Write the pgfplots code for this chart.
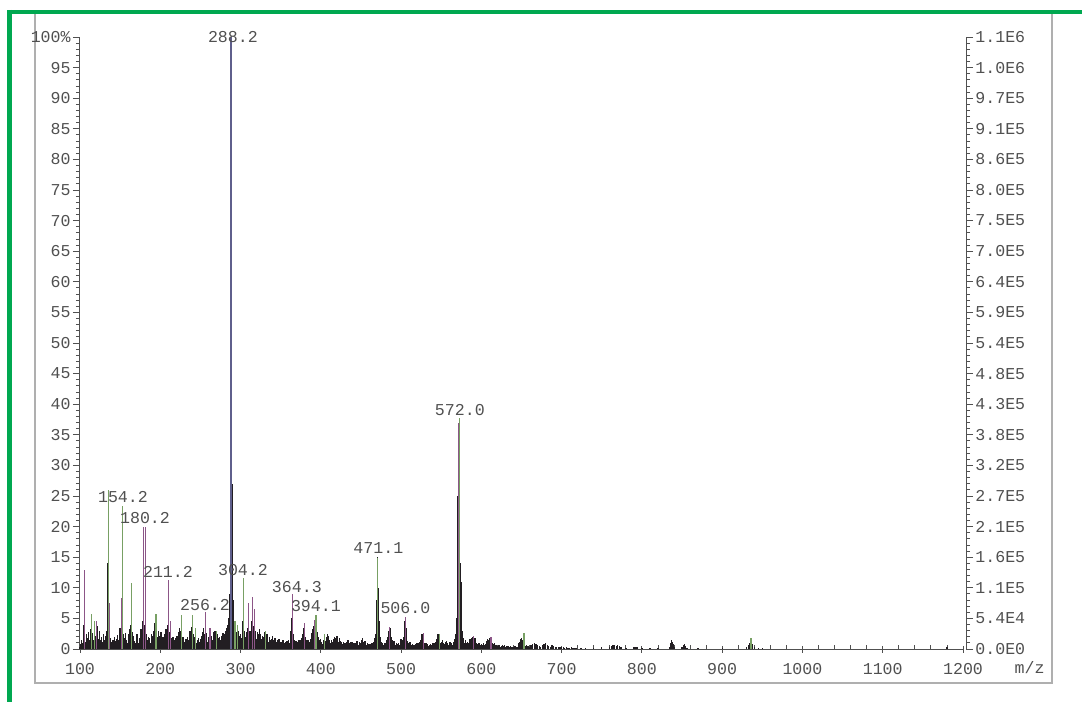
\documentclass[border=0pt]{standalone}
\usepackage{pgfplots}
\pgfplotsset{compat=1.18}
\usepackage{fontspec}
\setmainfont{Liberation Mono}
\usetikzlibrary{calc}
\definecolor{frameg}{RGB}{0,168,80}
\definecolor{framegray}{RGB}{175,175,175}
\definecolor{txt}{RGB}{80,80,80}
\definecolor{pk}{RGB}{34,30,34}
\definecolor{pur}{RGB}{140,85,135}
\definecolor{grn}{RGB}{120,160,100}
\definecolor{slate}{RGB}{95,95,140}
\begin{document}
\begin{tikzpicture}
\path[use as bounding box] (0,0) rectangle (541pt,351pt);
\draw[framegray, line width=0.8pt] (17.5pt,9.5pt) rectangle (526pt,345pt);
\begin{axis}[
  at={(40pt,26.5pt)}, anchor=south west,
  scale only axis, width=441.5pt, height=306pt,
  xmin=100, xmax=1200, ymin=0, ymax=100,
  axis x line*=bottom, axis y line*=left,
  axis line style={-, draw=txt, line width=0.5pt},
  xtick={100,200,...,1200}, minor x tick num=4,
  ytick={0,5,...,100}, minor y tick num=4,
  yticklabels={0,5,10,15,20,25,30,35,40,45,50,55,60,65,70,75,80,85,90,95,100\%},
  tick align=outside, major tick length=3.5pt, minor tick length=2pt,
  tick style={draw=txt, line width=0.45pt},
  minor x tick style={yshift=2pt},
  major x tick style={yshift=1.75pt},
  ticklabel style={font=\fontsize{8.3}{10}\selectfont, text=txt},
  yticklabel style={inner sep=1pt},
  xticklabel style={yshift=0pt},
  /pgf/number format/assume math mode=true,
  /pgf/number format/1000 sep={},
  clip=false,
]
% black (dense) layer
\addplot[ycomb, pk, line width=0.65pt, mark=none] coordinates {
(100,0.3)(101,0.8)(102,1.5)(103,0.9)(104,2.2)(105,4.0)(106,3.0)(107,1.2)(108,2.5)(109,1.0)
(110,1.8)(111,2.8)(112,1.4)(113,3.2)(114,2.0)(115,1.1)(116,2.6)(117,1.5)(118,3.5)(119,2.2)
(120,1.3)(121,3.8)(122,2.5)(123,1.6)(124,2.9)(125,1.4)(126,1.0)(127,2.0)(128,1.2)(129,2.4)
(130,1.5)(131,1.0)(132,2.2)(133,3.0)(134,6.0)(135,14.0)(136,7.0)(137,3.0)(138,1.8)(139,1.2)
(140,0.8)(141,1.5)(142,1.0)(143,2.0)(144,1.3)(145,0.9)(146,1.6)(147,2.3)(148,1.5)(149,2.8)
(150,3.5)(151,2.0)(152,5.0)(153,4.0)(154,2.5)(155,1.8)(156,1.2)(157,2.6)(158,1.5)(159,1.0)
(160,1.8)(161,2.5)(162,3.3)(163,4.0)(164,5.0)(165,2.8)(166,1.5)(167,2.2)(168,1.3)(169,1.0)
(170,1.6)(171,2.4)(172,1.2)(173,0.9)(174,1.8)(175,2.6)(176,3.2)(177,2.0)(178,4.5)(179,5.2)
(180,4.0)(181,3.0)(182,5.0)(183,2.5)(184,1.5)(185,2.0)(186,1.2)(187,1.8)(188,1.0)(189,2.5)
(190,1.5)(191,2.2)(192,3.0)(193,4.2)(194,3.5)(195,2.8)(196,2.0)(197,1.5)(198,3.0)(199,2.2)
(200,1.5)(201,2.8)(202,1.9)(203,1.2)(204,2.0)(205,1.4)(206,2.5)(207,3.2)(208,2.4)(209,4.0)
(210,3.5)(211,2.8)(212,2.0)(213,3.2)(214,1.8)(215,1.2)(216,2.0)(217,1.5)(218,1.0)(219,1.8)
(220,1.3)(221,2.2)(222,1.6)(223,2.8)(224,3.5)(225,2.2)(226,3.0)(227,2.0)(228,1.4)(229,2.0)
(230,1.2)(231,0.9)(232,1.6)(233,1.1)(234,2.0)(235,1.5)(236,2.4)(237,3.0)(238,2.2)(239,3.6)
(240,3.8)(241,2.5)(242,1.6)(243,2.0)(244,1.3)(245,0.9)(246,1.5)(247,1.1)(248,1.8)(249,1.2)
(250,1.6)(251,2.2)(252,1.5)(253,2.8)(254,3.4)(255,2.5)(256,3.8)(257,2.6)(258,1.8)(259,1.2)
(260,2.0)(261,1.4)(262,1.0)(263,1.6)(264,2.2)(265,1.5)(266,2.8)(267,2.0)(268,3.0)(269,2.2)
(270,1.6)(271,2.5)(272,1.8)(273,1.2)(274,2.0)(275,1.4)(276,2.2)(277,1.6)(278,2.6)(279,1.8)
(280,2.4)(281,3.0)(282,2.2)(283,3.4)(284,4.0)(285,5.0)(286,6.5)(287,9.0)(288,8.0)(289.6,27.0)
(290.5,8.0)(291,5.0)(292,4.0)(293,3.0)(294,4.2)(295,2.8)(296,2.0)(297,3.0)(298,2.2)(299,1.6)
(300,2.5)(301,1.8)(302,3.0)(303,4.5)(304,5.0)(305,3.0)(306,2.0)(307,1.5)(308,2.8)(309,3.5)
(310,4.0)(311,3.0)(312,2.2)(313,3.0)(314,4.5)(315,5.5)(316,3.8)(317,2.5)(318,3.0)(319,2.2)
(320,1.6)(321,2.8)(322,2.0)(323,2.5)(324,3.2)(325,2.4)(326,1.6)(327,2.2)(328,1.5)(329,2.0)
(330,2.8)(331,2.0)(332,1.4)(333,2.4)(334,1.8)(335,1.2)(336,2.0)(337,1.5)(338,1.0)(339,1.6)
(340,2.2)(341,1.5)(342,1.0)(343,1.8)(344,1.2)(345,0.8)(346,1.4)(347,1.0)(348,1.6)(349,1.1)
(350,0.7)(351,1.2)(352,0.9)(353,1.5)(354,1.0)(355,0.6)(356,1.2)(357,0.8)(358,1.3)(359,0.9)
(360,1.5)(361,1.0)(362,2.0)(363,3.0)(364,5.0)(365,4.0)(366,2.5)(367,1.5)(368,1.0)(369,1.3)
(370,0.8)(371,1.2)(372,0.9)(373,1.5)(374,1.0)(375,1.4)(376,1.8)(377,2.5)(378,3.0)(379,3.5)
(380,3.0)(381,2.0)(382,1.5)(383,1.0)(384,1.4)(385,0.9)(386,1.2)(387,1.6)(388,2.0)(389,2.6)
(390,3.2)(391,3.8)(392,4.5)(393,5.0)(394,4.2)(395,3.5)(396,2.8)(397,2.0)(398,1.5)(399,1.2)
(400,1.6)(401,1.1)(402,0.8)(403,1.4)(404,1.0)(405,1.8)(406,1.3)(407,2.0)(408,2.5)(409,1.8)
(410,2.2)(411,1.5)(412,1.0)(413,1.4)(414,0.9)(415,1.2)(416,1.6)(417,2.0)(418,1.5)(419,1.8)
(420,2.2)(421,1.6)(422,1.2)(423,1.8)(424,1.3)(425,0.9)(426,1.2)(427,0.8)(428,1.1)(429,0.7)
(430,1.0)(431,0.8)(432,1.2)(433,0.9)(434,1.4)(435,1.0)(436,0.7)(437,1.1)(438,0.8)(439,1.2)
(440,0.9)(441,0.6)(442,1.0)(443,0.7)(444,0.9)(445,1.3)(446,1.0)(447,0.7)(448,1.2)(449,0.8)
(450,1.0)(451,1.4)(452,1.8)(453,1.2)(454,0.9)(455,1.3)(456,0.9)(457,0.6)(458,0.9)(459,0.6)
(460,0.8)(461,0.5)(462,0.8)(463,1.0)(464,0.7)(465,0.9)(466,1.2)(467,1.8)(468,2.5)(469,4.0)
(470,8.0)(471,15.0)(472,10.0)(473,4.5)(474,2.0)(475,1.2)(476,0.8)(477,1.0)(478,0.7)(479,0.9)
(480,0.6)(481,1.0)(482,1.4)(483,2.0)(484,2.5)(485,3.0)(486,3.5)(487,2.8)(488,2.0)(489,1.4)
(490,1.0)(491,1.3)(492,0.9)(493,0.6)(494,0.9)(495,0.6)(496,0.8)(497,1.0)(498,0.7)(499,1.2)
(500,1.6)(501,1.0)(502,1.4)(503,2.0)(504,3.0)(505,4.5)(506,3.5)(507,2.0)(508,1.3)(509,1.0)
(510,0.8)(511,1.1)(512,0.8)(513,0.6)(514,0.8)(515,0.5)(516,0.7)(517,0.5)(518,0.8)(519,0.6)
(520,0.9)(521,0.7)(522,1.0)(523,1.2)(524,1.5)(525,2.0)(526,2.5)(527,2.2)(528,1.6)(529,1.0)
(530,0.7)(531,0.9)(532,0.6)(533,0.8)(534,0.5)(535,0.7)(536,0.5)(537,0.8)(538,0.6)(539,0.9)
(540,0.7)(541,1.0)(542,0.8)(543,1.2)(544,1.6)(545,2.0)(546,2.4)(547,2.0)(548,1.5)(549,1.0)
(550,0.8)(551,1.1)(552,1.4)(553,1.0)(554,0.8)(555,1.2)(556,0.9)(557,1.3)(558,1.0)(559,0.7)
(560,0.9)(561,1.2)(562,0.8)(563,1.0)(564,0.7)(565,0.9)(566,1.2)(567,1.6)(568,2.5)(569,5.0)
(570,25.0)(571,17.0)(572,12.0)(573.5,14.0)(574.5,11.0)(575.5,6.0)(576,3.0)(577,1.8)(578,1.3)(579,1.0)
(580,1.4)(581,1.0)(582,0.8)(583,1.2)(584,0.9)(585,1.3)(586,1.6)(587,1.2)(588,1.8)(589,2.0)
(590,1.6)(591,1.3)(592,1.8)(593,1.4)(594,1.0)(595,0.8)(596,1.0)(597,0.7)(598,0.9)(599,0.6)
(600,0.8)(601,0.5)(602,0.7)(603,0.9)(604,0.6)(605,0.8)(606,1.0)(607,1.3)(608,1.6)(609,1.4)
(610,1.8)(611,1.5)(612,1.2)(613,1.5)(614,1.0)(615,0.8)(616,1.0)(617,0.7)(618,0.5)(619,0.7)
(620,0.5)(621,0.6)(622,0.4)(623,0.6)(624,0.4)(625,0.5)(626,0.7)(627,0.5)(628,0.4)(629,0.6)
(630,0.4)(631,0.5)(632,0.3)(633,0.5)(634,0.4)(635,0.3)(636,0.5)(637,0.3)(638,0.4)(639,0.3)
(640,0.4)(641,0.3)(642,0.5)(643,0.4)(644,0.3)(645,0.4)(646,0.6)(647,0.9)(648,1.2)(649,1.6)
(650,1.8)(651,1.5)(652,1.2)(653,0.9)(654,0.7)(655,0.5)(656,0.6)(657,0.4)(658,0.5)(659,0.3)
(660,0.4)(662,0.6)(664,0.8)(666,1.0)(668,0.8)(670,0.6)(672,0.5)(674,0.4)(676,0.6)(678,0.8)
(680,0.9)(682,0.7)(684,0.5)(686,0.4)(688,0.6)(690,0.5)(692,0.4)(694,0.3)(696,0.4)(698,0.3)
(700,0.3)(702,0.3)(704,0.2)(706,0.3)(708,0.2)(710,0.2)(712,0.3)(714,0.2)(716,0.2)(718,0.2)
(724,0.2)(730,0.2)(740,0.2)(750,0.3)(760,0.4)(762,0.5)(764,0.6)(766,0.6)(768,0.5)(770,0.6)
(772,0.5)(774,0.4)(780,0.2)(790,0.3)(792,0.4)(794,0.3)(800,0.2)(810,0.1)(820,0.1)
(834,0.4)(836,1.0)(837,1.5)(838,1.2)(839,0.8)(840,0.4)(850,0.3)(852,0.6)(853,0.8)(854,0.5)
(856,0.2)(870,0.1)(900,0.1)(930,0.3)(933,0.6)(934,1.0)(935,1.4)(936,1.2)(937,0.8)(938,0.5)
(940,0.3)(945,0.2)(950,0.1)(1180,0.3)(1181,0.2)
};
% purple layer
\addplot[ycomb, pur, line width=0.6pt, mark=none] coordinates {
(106,12.9)(121,4.5)(135.6,25)(136.5,7.5)(152,8.3)(179,20)(182,20)(210,11.3)(213,4.5)
(256.5,6)(262,3.5)(309.6,7.5)(314.6,8.5)(317,6.5)(364.8,9.0)(380,4.2)(392.6,4.8)
(486,3.6)(505.6,5.3)(527.5,2.6)(571.4,36.9)(590,2.2)(612,2.0)(652,2.2)
};
% green layer
\addplot[ycomb, grn, line width=0.6pt, mark=none] coordinates {
(114.5,5.8)(118,4.5)(135.2,26)(153,23.3)(164.3,10.8)(194.6,5.7)(226.6,5.5)(240.3,5.5)
(244,3.5)(270,3.0)(293,4.5)(296,4.0)(303.4,11.6)(331,3.0)(393.9,5.6)(405,2.5)
(470.7,14.8)(547.5,2.5)(572.8,37.7)(653,2.6)(936,1.8)
};
% main peak
\addplot[ycomb, slate, line width=0.6pt, mark=none] coordinates {(288.2,100)};
% peak labels
\begin{scope}[every node/.style={font=\fontsize{8.3}{10}\selectfont, text=txt, inner sep=0pt}]
\node at (axis cs:290.5,100) {288.2};
\node at (axis cs:153.5,24.8) {154.2};
\node at (axis cs:181,21.4) {180.2};
\node at (axis cs:209.6,12.6) {211.2};
\node at (axis cs:255.7,7.2) {256.2};
\node at (axis cs:303,12.9) {304.2};
\node at (axis cs:370.2,10.1) {364.3};
\node at (axis cs:393.9,7.0) {394.1};
\node at (axis cs:471.7,16.5) {471.1};
\node at (axis cs:505.4,6.7) {506.0};
\node at (axis cs:573.2,39.0) {572.0};
\node at (axis cs:1283,-3.1) {m/z};
\end{scope}
\end{axis}
\begin{axis}[
  at={(41.5pt,26.5pt)}, anchor=south west,
  scale only axis, width=441.5pt, height=306pt,
  xmin=100, xmax=1200, ymin=0, ymax=100,
  axis x line=none, axis y line*=right,
  axis line style={-, draw=txt, line width=0.5pt},
  ytick={0,5,...,100}, minor y tick num=4,
  yticklabels={0.0E0,5.4E4,1.1E5,1.6E5,2.1E5,2.7E5,3.2E5,3.8E5,4.3E5,4.8E5,5.4E5,5.9E5,6.4E5,7.0E5,7.5E5,8.0E5,8.6E5,9.1E5,9.7E5,1.0E6,1.1E6},
  tick align=outside, major tick length=3.5pt, minor tick length=2pt,
  tick style={draw=txt, line width=0.45pt},
  ticklabel style={font=\fontsize{8.3}{10}\selectfont, text=txt},
  yticklabel style={inner sep=1pt},
]
\addplot[draw=none] coordinates {(100,0)};
\end{axis}
\draw[frameg, line width=2pt] (3.5pt,345pt) -- (541pt,345pt);
\draw[frameg, line width=2.5pt] (4.75pt,346pt) -- (4.75pt,0pt);
\end{tikzpicture}
\end{document}
